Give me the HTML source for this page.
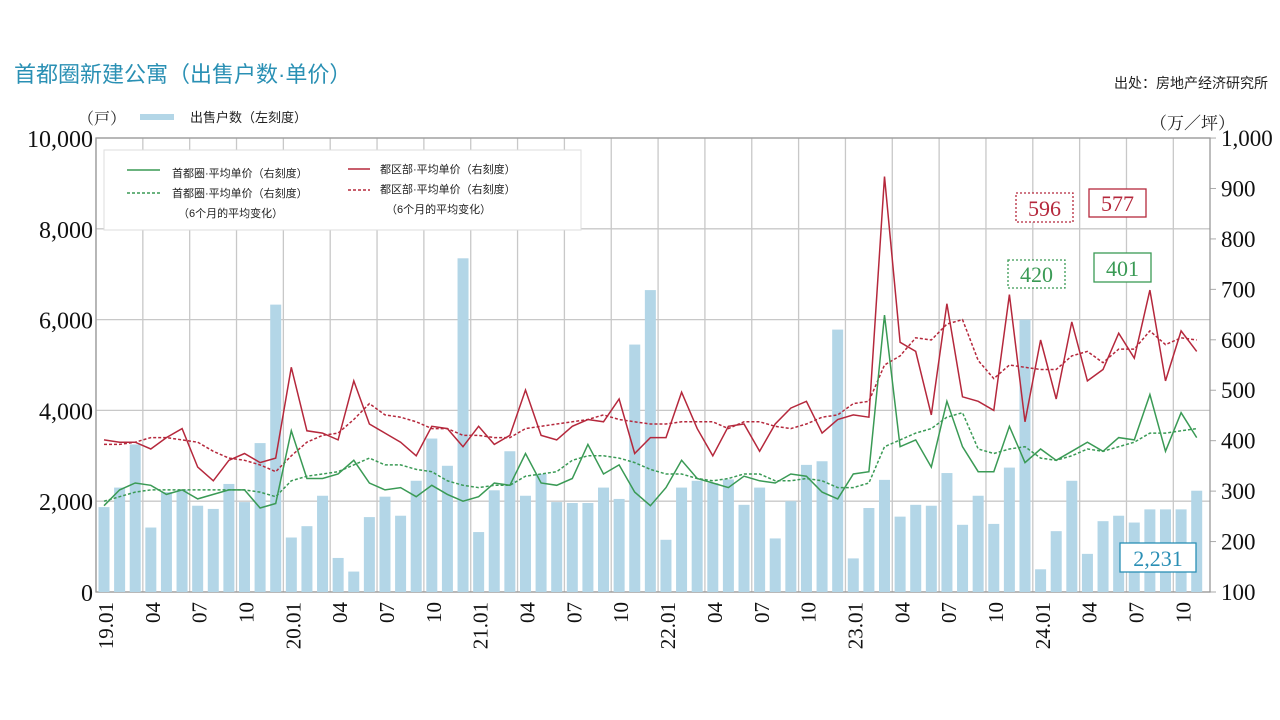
<!DOCTYPE html>
<html><head><meta charset="utf-8"><style>
body{margin:0;background:#fff;width:1280px;height:720px;overflow:hidden}
svg{display:block}
.s{font-family:"Liberation Serif","Noto Serif CJK SC",serif}
.c{font-family:"Liberation Sans","Noto Sans CJK SC",sans-serif}
</style></head><body>
<svg id="g" width="1280" height="720" xmlns="http://www.w3.org/2000/svg"></svg>
<script>
const bars=[1870,2300,3250,1420,2200,2250,1900,1830,2380,1980,3280,6330,1200,1450,2120,750,450,1650,2100,1680,2450,3380,2780,7350,1320,2240,3100,2120,2600,1980,1960,1960,2300,2050,5450,6650,1150,2300,2450,2400,2480,1920,2300,1180,2000,2800,2880,5780,740,1850,2470,1660,1920,1900,2620,1480,2120,1500,2740,6000,500,1340,2450,840,1560,1680,1530,1820,1820,1820,2231];
const gs=[1900,2250,2400,2350,2150,2250,2050,2150,2250,2250,1850,1950,3550,2500,2500,2600,2900,2400,2250,2300,2100,2350,2150,2000,2100,2400,2350,3050,2400,2350,2500,3250,2600,2800,2200,1900,2300,2900,2500,2400,2300,2550,2450,2400,2600,2550,2200,2050,2600,2650,6100,3200,3350,2750,4200,3200,2650,2650,3650,2850,3150,2900,3100,3300,3100,3400,3350,4350,3100,3950,3400];
const gd=[2000,2100,2200,2250,2250,2250,2250,2250,2250,2250,2200,2100,2450,2550,2600,2650,2800,2950,2800,2800,2700,2650,2450,2350,2300,2350,2350,2550,2600,2650,2900,3000,3000,2950,2850,2700,2600,2600,2500,2450,2500,2600,2600,2450,2450,2500,2450,2300,2300,2400,3200,3350,3500,3600,3850,3950,3150,3050,3150,3200,2950,2900,3000,3150,3100,3200,3300,3500,3500,3550,3600];
const rs=[3350,3300,3300,3150,3400,3600,2750,2450,2900,3050,2850,2950,4950,3550,3500,3350,4650,3700,3500,3300,3000,3650,3600,3200,3650,3250,3450,4450,3450,3350,3650,3800,3750,4250,3050,3400,3400,4400,3600,3000,3650,3700,3100,3700,4050,4200,3500,3800,3900,3850,9150,5500,5300,3900,6350,4300,4200,4000,6550,3750,5550,4250,5950,4650,4900,5700,5150,6650,4650,5750,5300];
const rd=[3250,3250,3300,3400,3400,3350,3300,3100,2950,2900,2800,2650,3000,3300,3450,3500,3800,4150,3900,3850,3750,3600,3600,3450,3450,3400,3400,3600,3650,3700,3750,3800,3900,3800,3750,3700,3700,3750,3750,3750,3600,3750,3750,3650,3600,3700,3850,3900,4150,4200,5000,5200,5600,5550,5900,6000,5100,4700,5000,4950,4900,4900,5200,5300,5050,5350,5350,5750,5450,5600,5550];
const X=i=>104+15.61*i, Y=v=>592-v*0.0454;
let s='';
s+='<text x="14" y="82" class="c" font-size="22" fill="#2a90b4">首都圈新建公寓（出售户数·单价）</text>';
s+='<text x="1268" y="88" class="c" font-size="14" text-anchor="end" fill="#222">出处：房地产经济研究所</text>';
s+='<text x="78" y="124" class="s" font-size="16" fill="#222">（戸）</text>';
s+='<rect x="140" y="114" width="34" height="6" fill="#b3d6e7"/>';
s+='<text x="190" y="122" class="c" font-size="13" fill="#222">出售户数（左刻度）</text>';
s+='<text x="1150" y="129" class="s" font-size="17" fill="#222">（万／坪）</text>';
// grid
for(let k=0;k<=23;k++){const x=96+46.84*k;s+=`<line x1="${x}" y1="138" x2="${x}" y2="592" stroke="#c8c8c8" stroke-width="1.3"/>`;}
for(let v=0;v<=10000;v+=2000){s+=`<line x1="96" y1="${Y(v)}" x2="1210" y2="${Y(v)}" stroke="#c8c8c8" stroke-width="1.3"/>`;
s+=`<text x="93" y="${Y(v)+9}" class="s" font-size="24" text-anchor="end" fill="#111">${v.toLocaleString('en-US')}</text>`;}
for(let p=100;p<=1000;p+=100){const y=592-(p-100)*0.5044;s+=`<line x1="1210" y1="${y}" x2="1216" y2="${y}" stroke="#aaa"/>`;
s+=`<text x="1221" y="${y+8}" class="s" font-size="23" fill="#111">${p.toLocaleString('en-US')}</text>`;}
s+='<rect x="96" y="138" width="1114" height="454" fill="none" stroke="#999" stroke-width="1.3"/>';
// bars
bars.forEach((v,i)=>{s+=`<rect x="${X(i)-5.5}" y="${Y(v)}" width="11" height="${v*0.0454}" fill="#b3d6e7"/>`;});
const pl=(a,c,d)=>`<polyline fill="none" stroke="${c}" stroke-width="1.5" ${d?'stroke-dasharray="3,2"':''} points="${a.map((v,i)=>X(i).toFixed(1)+','+Y(v).toFixed(1)).join(' ')}"/>`;
s+=pl(gd,'#3a9a55',1)+pl(rd,'#b5283c',1)+pl(gs,'#3a9a55',0)+pl(rs,'#b5283c',0);
// legend
s+='<rect x="104" y="150" width="477" height="80" fill="#fff" stroke="#ddd"/>';
s+='<line x1="127" y1="170" x2="160" y2="170" stroke="#3a9a55" stroke-width="1.5"/><line x1="127" y1="193" x2="160" y2="193" stroke="#3a9a55" stroke-width="1.5" stroke-dasharray="3,2"/>';
s+='<text x="172" y="177" class="c" font-size="11" fill="#222">首都圈·平均单价（右刻度）</text><text x="172" y="197" class="c" font-size="11" fill="#222">首都圈·平均单价（右刻度）</text><text x="178" y="217" class="c" font-size="11" fill="#222">（6个月的平均变化）</text>';
s+='<line x1="348" y1="169" x2="370" y2="169" stroke="#b5283c" stroke-width="1.5"/><line x1="348" y1="190" x2="370" y2="190" stroke="#b5283c" stroke-width="1.5" stroke-dasharray="3,2"/>';
s+='<text x="380" y="173" class="c" font-size="11" fill="#222">都区部·平均单价（右刻度）</text><text x="380" y="193" class="c" font-size="11" fill="#222">都区部·平均单价（右刻度）</text><text x="386" y="213" class="c" font-size="11" fill="#222">（6个月的平均变化）</text>';
// value boxes
const box=(x,y,w,h,c,t,d)=>`<rect x="${x}" y="${y}" width="${w}" height="${h}" fill="#fff" stroke="${c}" stroke-width="1.3" ${d?'stroke-dasharray="2,2"':''}/><text x="${x+w/2}" y="${y+h-6}" class="s" font-size="22" text-anchor="middle" fill="${c}">${t}</text>`;
s+=box(1016,193,57,29,'#b5283c','596',1)+box(1089,189,57,28,'#b5283c','577',0)+box(1008,260,57,28,'#3a9a55','420',1)+box(1094,253,57,29,'#3a9a55','401',0)+box(1120,543,76,29,'#2a8fb5','2,231',0);
// x labels
const lab=['19.01','04','07','10','20.01','04','07','10','21.01','04','07','10','22.01','04','07','10','23.01','04','07','10','24.01','04','07','10'];
lab.forEach((t,k)=>{const x=96+46.84*k+17;s+=`<text transform="translate(${x},602) rotate(-90)" class="s" font-size="21" text-anchor="end" fill="#111">${t}</text>`;});
document.getElementById('g').innerHTML=s;
</script>
</body></html>
